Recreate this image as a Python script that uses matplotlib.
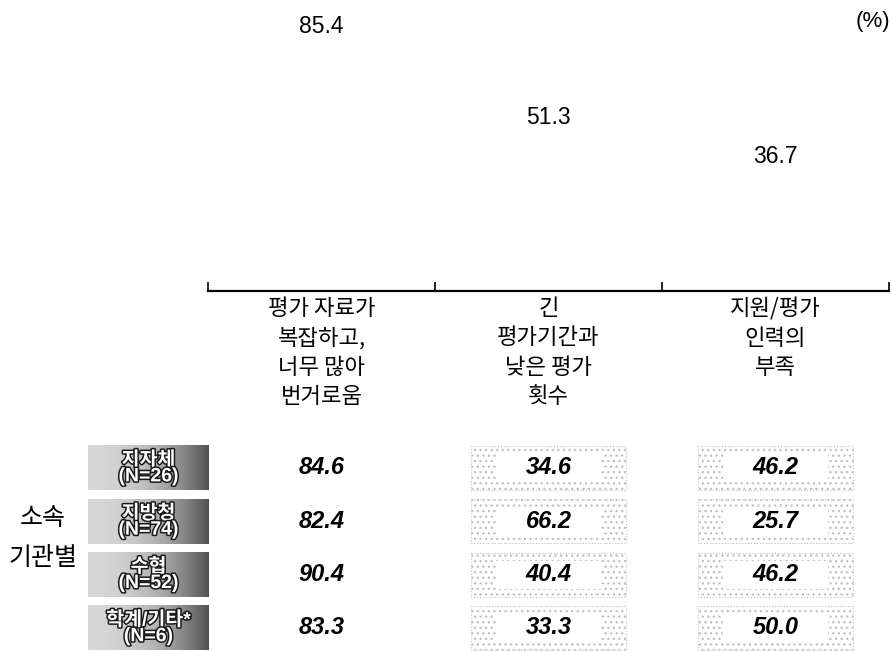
import numpy as np
import matplotlib.pyplot as plt
import matplotlib.transforms as mtransforms
import matplotlib.patheffects as pe
from matplotlib.patches import Rectangle

plt.rcParams['font.family'] = ['Liberation Sans', 'Noto Sans CJK KR', 'DejaVu Sans']

# data
categories = ['평가 자료가\n복잡하고,\n너무 많아\n번거로움',
              '긴\n평가기간과\n낮은 평가\n횟수',
              '지원/평가\n인력의\n부족']
totals = [85.4, 51.3, 36.7]
groups = ['지자체\n(N=26)', '지방청\n(N=74)', '수협\n(N=52)', '학계/기타*\n(N=6)']
group_values = [
    [84.6, 34.6, 46.2],
    [82.4, 66.2, 25.7],
    [90.4, 40.4, 46.2],
    [83.3, 33.3, 50.0],
]
group_title = ['소속', '기관별']

W, H = 892, 651
fig = plt.figure(figsize=(W / 100, H / 100), dpi=100)

# bar part (bars are blank in the original, only labels remain)
base_y = 291
x_left, x_right = 208, 889
px_per_unit = 2.67
ax = fig.add_axes([x_left / W, (H - base_y) / H, (x_right - x_left) / W, base_y / H])
ax.bar(range(len(totals)), totals, width=0.6, color='white')
ax.set_xlim(-0.5, len(totals) - 0.5)
ax.set_ylim(0, base_y / px_per_unit)
for s in ['top', 'left', 'right']:
    ax.spines[s].set_visible(False)
ax.spines['bottom'].set_linewidth(1.6)
ax.set_yticks([])
ax.set_xticks([])
ax.set_xticks(np.arange(len(totals) + 1) - 0.5, minor=True)
ax.tick_params(axis='x', which='minor', direction='in', length=6.5, width=1.2)
for i, v in enumerate(totals):
    ax.annotate(f'{v:.1f}', (i, v), xytext=(0, 26), textcoords='offset points',
                ha='center', va='center', fontsize=16.5)
fig.text(890 / W, 1 - 22 / H, '(%)', ha='right', va='center', fontsize=16)

# overlay in pixel coordinates for the table part
ov = fig.add_axes([0, 0, 1, 1])
ov.axis('off')
trans = mtransforms.blended_transform_factory(ax.transData, ov.transData)

kfont = ['Noto Sans CJK KR', 'DejaVu Sans']
for i, lab in enumerate(categories):
    ov.text(i, 297, lab, transform=trans, ha='center', va='top', fontsize=16,
            linespacing=1.36, family=kfont)

row_y0, row_pitch, box_h = 468, 53.3, 45
t = np.linspace(0, 1, 256)
grad = (0.84 - 0.52 * t ** 2.2)[None, :]
for r, (g, vals) in enumerate(zip(groups, group_values)):
    yc = row_y0 + r * row_pitch
    ov.imshow(grad, extent=(88, 209, yc + box_h / 2, yc - box_h / 2), cmap='gray',
              vmin=0, vmax=1, aspect='auto', interpolation='bilinear')
    ov.text(148.5, yc, g, ha='center', va='center', fontsize=14, fontweight='bold',
            color='white', linespacing=0.9,
            path_effects=[pe.withStroke(linewidth=2.2, foreground='#1a1a1a')])
    for j, v in enumerate(vals):
        if j > 0:
            ov.add_patch(Rectangle((j - 0.34, yc - 22), 0.68, 44, transform=trans,
                                   fc='white', ec='#c4c4c4', hatch='...', lw=0.8, ls=':'))
            ov.add_patch(Rectangle((j - 0.23, yc - 14), 0.46, 28, transform=trans,
                                   fc='white', ec='none'))
        ov.text(j, yc, f'{v:.1f}', transform=trans, ha='center', va='center',
                fontsize=17, fontweight='bold', fontstyle='italic')

for k, word in enumerate(group_title):
    ov.text(43, 518 + 40 * k, word, ha='center', va='center', fontsize=18, family=kfont)

ov.set_xlim(0, W)
ov.set_ylim(H, 0)

fig.savefig('out.png', dpi=100)
